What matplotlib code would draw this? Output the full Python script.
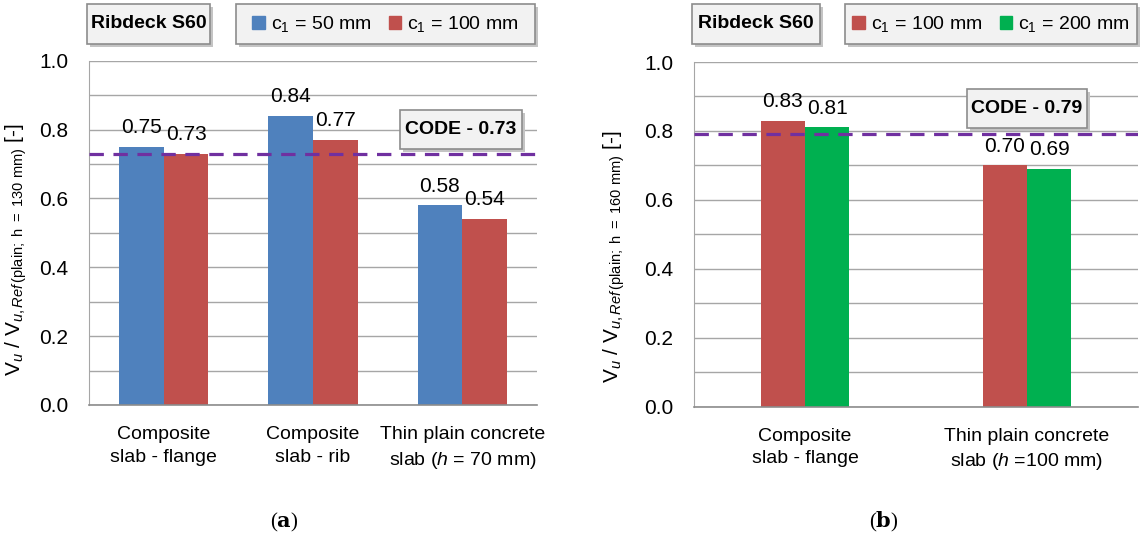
import numpy as np
import matplotlib
matplotlib.use("Agg")
import matplotlib.pyplot as plt
from matplotlib import font_manager
from matplotlib.patches import Rectangle, Patch

# data
cats_a = ['Composite\nslab - flange', 'Composite\nslab - rib',
          'Thin plain concrete\nslab ($\\mathit{h}$ = 70 mm)']
a_c50 = [0.75, 0.84, 0.58]
a_c100 = [0.73, 0.77, 0.54]
code_a = 0.73

cats_b = ['Composite\nslab - flange', 'Thin plain concrete\nslab ($\\mathit{h}$ =100 mm)']
b_c100 = [0.83, 0.70]
b_c200 = [0.81, 0.69]
code_b = 0.79

yticks = [0.0, 0.2, 0.4, 0.6, 0.8, 1.0]

BLUE = '#4F81BD'
RED = '#C0504D'
GREEN = '#00B050'
PURPLE = '#7030A0'
GRID = '#a6a6a6'

avail = {f.name for f in font_manager.fontManager.ttflist}
if 'Liberation Sans Narrow' in avail:
    fam = 'Liberation Sans Narrow'
    fs = 16
else:
    fam = 'Liberation Sans'
    fs = 14

plt.rcParams['font.family'] = [fam, 'DejaVu Sans']
plt.rcParams['mathtext.fontset'] = 'custom'
plt.rcParams['mathtext.rm'] = fam
plt.rcParams['mathtext.it'] = fam + ':italic'
plt.rcParams['mathtext.bf'] = fam + ':bold'

W, H = 1141, 541
fig = plt.figure(figsize=(W / 100, H / 100), dpi=100)


def box(x0, y0, x1, y1, text=None, bold=True):
    # pixel coords, origin top-left
    fig.patches.append(Rectangle(((x0 + 3) / W, 1 - (y1 + 3) / H), (x1 - x0) / W, (y1 - y0) / H,
                                 transform=fig.transFigure, fc='#c4c4c4', ec='none', zorder=2))
    fig.patches.append(Rectangle((x0 / W, 1 - y1 / H), (x1 - x0) / W, (y1 - y0) / H,
                                 transform=fig.transFigure, fc='#f2f2f2', ec='#8c8c8c', lw=1.2, zorder=3))
    if text:
        fig.text((x0 + x1) / 2 / W, 1 - (y0 + y1) / 2 / H, text, ha='center', va='center',
                 fontsize=fs, fontweight='bold' if bold else 'normal', zorder=4)


def style_axes(ax, ylabel_txt, lx, ly):
    ax.set_ylim(0, 1.0)
    ax.set_yticks(yticks)
    ax.set_yticks(np.arange(0.1, 1.0, 0.2), minor=True)
    ax.yaxis.set_major_formatter(matplotlib.ticker.FormatStrFormatter('%.1f'))
    ax.grid(axis='y', which='both', color=GRID, lw=1)
    ax.set_axisbelow(True)
    ax.tick_params(axis='both', which='both', length=0, labelsize=fs)
    ax.tick_params(axis='y', labelsize=fs + 1, pad=15)
    ax.tick_params(axis='x', pad=15)
    for t in ax.get_xticklabels():
        t.set_linespacing(1.45)
    for s in ['top', 'right']:
        ax.spines[s].set_visible(False)
    ax.spines['left'].set_color('#a6a6a6')
    ax.spines['bottom'].set_color('#8c8c8c')
    ax.spines['bottom'].set_linewidth(1.2)
    ax.set_ylabel(ylabel_txt, fontsize=fs + 1)
    ax.yaxis.set_label_coords(lx, ly)


# (a)
axL = fig.add_axes([89 / W, 1 - 405 / H, 448 / W, (405 - 60.7) / H])
x = np.arange(len(cats_a))
b1 = axL.bar(x - 0.15, a_c50, 0.3, color=BLUE)
b2 = axL.bar(x + 0.15, a_c100, 0.3, color=RED)
axL.bar_label(b1, labels=['%.2f' % v for v in a_c50], padding=7, fontsize=fs + 1)
axL.bar_label(b2, labels=['%.2f' % v for v in a_c100], padding=7, fontsize=fs + 1)
axL.axhline(code_a, color=PURPLE, lw=2.3, ls=(0, (4.5, 3)), zorder=3)
axL.set_xlim(-0.5, len(cats_a) - 0.5)
axL.set_xticks(x)
axL.set_xticklabels(cats_a)
style_axes(axL, r'V$_{\mathit{u}}$ / V$_{\mathit{u,Ref}\,\mathrm{(plain;\ h\ =\ 130\ mm)}}$ [-]', -0.135, 0.45)

# (b)
axR = fig.add_axes([694 / W, 1 - 406.7 / H, 444 / W, (406.7 - 62) / H])
x = np.arange(len(cats_b))
b3 = axR.bar(x - 0.1, b_c100, 0.2, color=RED)
b4 = axR.bar(x + 0.1, b_c200, 0.2, color=GREEN)
axR.bar_label(b3, labels=['%.2f' % v for v in b_c100], padding=7, fontsize=fs + 1)
axR.bar_label(b4, labels=['%.2f' % v for v in b_c200], padding=7, fontsize=fs + 1)
axR.axhline(code_b, color=PURPLE, lw=2.3, ls=(0, (4.5, 3)), zorder=3)
axR.set_xlim(-0.5, len(cats_b) - 0.5)
axR.set_xticks(x)
axR.set_xticklabels(cats_b)
style_axes(axR, r'V$_{\mathit{u}}$ / V$_{\mathit{u,Ref}\,\mathrm{(plain;\ h\ =\ 160\ mm)}}$ [-]', -0.15, 0.435)

# text boxes
box(87, 4, 210, 44, 'Ribdeck S60')
box(236, 4, 535, 44)
box(400, 110, 522, 149, 'CODE - %.2f' % code_a)
box(692, 4, 820, 44, 'Ribdeck S60')
box(845, 4, 1137, 44)
box(967, 89, 1087, 128, 'CODE - %.2f' % code_b)

# legends inside the boxes
for cols, labs, cx in [([BLUE, RED], ['c$_{1}$ = 50 mm', 'c$_{1}$ = 100 mm'], (236 + 535) / 2),
                       ([RED, GREEN], ['c$_{1}$ = 100 mm', 'c$_{1}$ = 200 mm'], (845 + 1137) / 2)]:
    handles = [Patch(color=c, label=l) for c, l in zip(cols, labs)]
    fig.legend(handles=handles, loc='center', bbox_to_anchor=(cx / W, 1 - 24 / H),
               ncol=2, frameon=False, fontsize=fs, handlelength=0.65, handleheight=0.65,
               handletextpad=0.3, columnspacing=0.9, borderpad=0)

# captions
fig.text(284 / W, 1 - 522 / H, r'($\mathbf{a}$)', ha='center', va='center', fontsize=15,
         family='Liberation Serif', math_fontfamily='dejavuserif')
fig.text(884 / W, 1 - 522 / H, r'($\mathbf{b}$)', ha='center', va='center', fontsize=15,
         family='Liberation Serif', math_fontfamily='dejavuserif')

fig.savefig('out.png', dpi=100)
